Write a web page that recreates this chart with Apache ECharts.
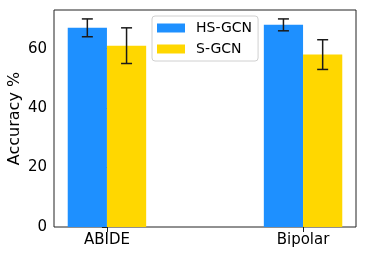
<!DOCTYPE html>
<html>
<head>
<meta charset="utf-8">
<script src="https://cdn.jsdelivr.net/npm/echarts@6/dist/echarts.min.js"></script>
<style>html,body{margin:0;padding:0;background:#fff}#c{width:366px;height:256px}</style>
</head>
<body>
<div id="c"></div>
<script>
const categories = ['ABIDE', 'Bipolar'];
const seriesNames = ['HS-GCN', 'S-GCN'];
const hsgcn = [67, 68];
const hsgcnErr = [3, 2];
const sgcn = [61, 58];
const sgcnErr = [6, 5];
const yTicks = [0, 20, 40, 60];

const FONT = 'DejaVu Sans';
const barW = 0.2;
const colors = ['#1E90FF', '#FFD700'];

function makeSeries(name, vals, errs, offset, color) {
  return {
    type: 'custom',
    name: name,
    itemStyle: { color: color },
    data: vals.map((v, i) => [i + offset, v, errs[i]]),
    encode: { x: 0, y: 1 },
    renderItem: function (params, api) {
      const x = api.value(0), y = api.value(1), e = api.value(2);
      const p0 = api.coord([x - barW / 2, y]);
      const p1 = api.coord([x + barW / 2, 0]);
      const top = api.coord([x, y + e]);
      const bot = api.coord([x, y - e]);
      const cap = 5.5;
      const ls = { stroke: '#1a1a1a', lineWidth: 1.5 };
      return {
        type: 'group',
        children: [
          { type: 'rect', shape: { x: p0[0], y: p0[1], width: p1[0] - p0[0], height: p1[1] - p0[1] }, style: { fill: color } },
          { type: 'line', shape: { x1: top[0], y1: top[1], x2: bot[0], y2: bot[1] }, style: ls },
          { type: 'line', shape: { x1: top[0] - cap, y1: top[1], x2: top[0] + cap, y2: top[1] }, style: ls },
          { type: 'line', shape: { x1: bot[0] - cap, y1: bot[1], x2: bot[0] + cap, y2: bot[1] }, style: ls }
        ]
      };
    }
  };
}

const chart = echarts.init(document.getElementById('c'), null, { renderer: 'canvas' });
chart.setOption({
  animation: false,
  backgroundColor: '#fff',
  textStyle: { fontFamily: FONT },
  grid: { left: 54, right: 10, top: 10, bottom: 29, containLabel: false, outerBoundsMode: 'none', show: true, borderColor: '#222', borderWidth: 1, backgroundColor: 'transparent' },
  legend: {
    data: seriesNames,
    orient: 'vertical',
    left: 152, top: 16,
    padding: [4, 6, 4, 5],
    icon: 'rect',
    itemWidth: 28, itemHeight: 9,
    itemGap: 5,
    borderColor: '#d0d0d0', borderWidth: 1, borderRadius: 3,
    backgroundColor: 'rgba(255,255,255,0.8)',
    textStyle: { fontFamily: FONT, fontSize: 14, color: '#000', lineHeight: 16, padding: [0, 0, 0, 6] }
  },
  xAxis: {
    type: 'value', min: -0.27, max: 1.27,
    splitLine: { show: false },
    axisLine: { show: false },
    axisTick: { show: true, length: 5, lineStyle: { color: '#222' }, customValues: [0, 1] },
    axisLabel: { customValues: [0, 1], formatter: v => categories[Math.round(v)] || '', fontFamily: FONT, fontSize: 15, color: '#000', margin: 6 }
  },
  yAxis: {
    type: 'value', min: 0, max: 73,
    name: 'Accuracy %', nameLocation: 'middle', nameGap: 31, nameMoveOverlap: false,
    nameTextStyle: { fontFamily: FONT, fontSize: 16, color: '#000' },
    splitLine: { show: false },
    axisLine: { show: false },
    axisTick: { show: true, length: 5, lineStyle: { color: '#222' }, customValues: yTicks },
    axisLabel: { customValues: yTicks, fontFamily: FONT, fontSize: 15, color: '#000', margin: 7 }
  },
  series: [
    makeSeries(seriesNames[0], hsgcn, hsgcnErr, -0.1, colors[0]),
    makeSeries(seriesNames[1], sgcn, sgcnErr, 0.1, colors[1])
  ]
});
</script>
</body>
</html>
